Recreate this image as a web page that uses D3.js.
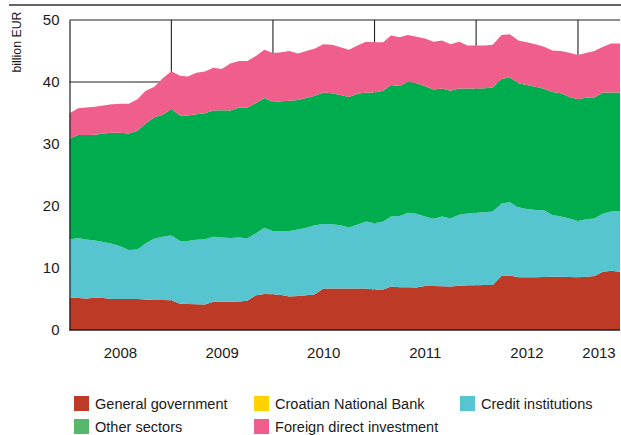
<!DOCTYPE html>
<html>
<head>
<meta charset="utf-8">
<script src="https://cdn.jsdelivr.net/npm/d3@7"></script>
<style>
  body { margin: 0; background: #fff; }
  svg text { font-family: "Liberation Sans Narrow", "Arial Narrow", "Liberation Sans", sans-serif; fill: #1a1a1a; }
</style>
</head>
<body>
<svg width="621" height="435"></svg>
<script>
// end-of-month stocks, Dec 2007 .. May 2013 (billion EUR)
var firstMonth = new Date(2008, 0, 1),   // position of the Dec 2007 stock
    lastMonth = new Date(2013, 5, 1);    // position of the May 2013 stock

var generalGov = [5.2,5.15,5.1,5.2,5.15,5.0,5.0,5.0,5.0,4.9,4.85,4.85,4.8,
  4.25,4.2,4.15,4.1,4.55,4.55,4.55,4.6,4.7,5.6,5.8,5.75,
  5.65,5.4,5.5,5.6,5.75,6.7,6.7,6.7,6.7,6.7,6.7,6.55,
  6.55,7.0,6.9,6.9,6.85,7.1,7.1,7.05,7.0,7.15,7.2,7.2,
  7.25,7.25,8.7,8.8,8.5,8.5,8.5,8.55,8.6,8.6,8.55,8.5,
  8.6,8.7,9.4,9.55,9.4];
var cnb = [0,0,0,0,0,0,0,0,0,0,0,0,0,
  0,0,0,0,0,0,0,0,0,0,0,0,
  0,0,0,0,0,0,0,0,0,0,0,0,
  0,0,0,0,0,0,0,0,0,0,0,0,
  0,0,0,0,0,0,0,0,0,0,0,0,
  0,0,0,0,0];
var creditInst = [9.4,9.7,9.5,9.25,9.05,8.9,8.5,7.9,8.0,9.1,9.9,10.2,10.5,
  10.1,10.15,10.4,10.55,10.5,10.35,10.3,10.3,10.1,10.0,10.7,10.2,
  10.3,10.55,10.7,10.9,11.15,10.4,10.35,10.2,9.85,10.3,10.8,10.65,
  10.95,11.3,11.5,12.0,11.9,11.2,10.85,11.25,11.0,11.45,11.6,11.7,
  11.75,11.85,11.7,11.8,11.3,11.0,10.85,10.75,9.95,9.7,9.45,9.1,
  9.25,9.3,9.4,9.55,9.8];
var otherSectors = [16.3,16.6,16.85,17.05,17.5,17.9,18.3,18.8,19.15,19.3,19.55,19.65,20.33,
  20.25,20.25,20.25,20.3,20.35,20.55,20.55,21.0,21.1,21.0,20.9,20.83,
  20.93,21.03,20.9,20.9,20.9,21.2,21.15,21.0,21.05,21.1,20.8,21.1,
  21.1,21.2,20.95,21.15,21.05,21.0,20.85,20.65,20.6,20.35,20.15,20.05,
  20.0,20.0,20.1,20.15,20.0,20.0,19.9,19.6,19.85,19.9,19.6,19.6,
  19.65,19.5,19.5,19.2,19.1];
var fdi = [4.05,4.3,4.45,4.5,4.5,4.6,4.7,4.8,5.05,5.3,4.95,5.9,6.1,
  6.4,6.3,6.7,6.75,6.9,6.65,7.6,7.5,7.5,7.6,7.8,7.9,
  7.9,8.0,7.5,7.6,7.6,7.8,7.8,7.7,7.6,7.8,8.2,8.1,
  7.8,8.0,7.85,7.55,7.5,7.7,7.7,7.75,7.5,7.55,6.95,6.95,
  6.9,6.9,7.1,6.95,6.9,6.9,6.85,6.8,6.7,6.8,7.1,7.15,
  7.2,7.5,7.4,7.9,7.9];

var seriesKeys = ["gg", "cnb", "ci", "os", "fdi"];
var seriesNames = ["General government", "Croatian National Bank", "Credit institutions",
                   "Other sectors", "Foreign direct investment"];
var areaColors = ["#bd3b26", "#ffd200", "#56c5d0", "#00ad4e", "#f05f8b"];
var legendColors = ["#bd3b26", "#ffd200", "#56c5d0", "#55b86a", "#f05f8b"];
var yTicks = [0, 10, 20, 30, 40, 50];
var years = [2008, 2009, 2010, 2011, 2012, 2013];

var svg = d3.select("svg");

var months = d3.timeMonth.range(firstMonth, d3.timeMonth.offset(lastMonth, 1));
var table = months.map(function(m, i) {
  return { date: m, gg: generalGov[i], cnb: cnb[i], ci: creditInst[i], os: otherSectors[i], fdi: fdi[i] };
});

var x = d3.scaleTime().domain([firstMonth, lastMonth]).range([69.5, 620]);
var y = d3.scaleLinear().domain([0, 50]).range([330, 20]);

// rule at the very top
svg.append("line")
  .attr("x1", 9).attr("x2", 621).attr("y1", 5).attr("y2", 5)
  .attr("stroke", "#333").attr("stroke-width", 1.3);

// grid behind the areas
var grid = svg.append("g").attr("stroke", "#231f20").attr("stroke-width", 1.1);
grid.selectAll("line.h")
  .data(yTicks.filter(function(d) { return d > 0; }))
  .enter().append("line")
    .attr("class", "h")
    .attr("x1", x.range()[0]).attr("x2", x.range()[1])
    .attr("y1", function(d) { return y(d); }).attr("y2", function(d) { return y(d); });
grid.selectAll("line.v")
  .data(years.slice(1))
  .enter().append("line")
    .attr("class", "v")
    .attr("x1", function(d) { return x(new Date(d, 0, 1)); })
    .attr("x2", function(d) { return x(new Date(d, 0, 1)); })
    .attr("y1", y(50)).attr("y2", y(0));

var stack = d3.stack().keys(seriesKeys);
var layers = stack(table);

var area = d3.area()
  .x(function(d) { return x(d.data.date); })
  .y0(function(d) { return y(d[0]); })
  .y1(function(d) { return y(d[1]); });

svg.append("g")
  .selectAll("path")
  .data(layers)
  .enter().append("path")
    .attr("fill", function(d, i) { return areaColors[i]; })
    .attr("d", area);

// y axis
var yAxis = svg.append("g")
  .attr("transform", "translate(" + x.range()[0] + ",0)")
  .call(d3.axisLeft(y).tickValues(yTicks).tickSize(0).tickPadding(10));
yAxis.select(".domain").attr("stroke", "#231f20").attr("stroke-width", 1.2);
yAxis.selectAll("text").style("font-size", "15px");

svg.append("line")
  .attr("x1", x.range()[0]).attr("x2", x.range()[1])
  .attr("y1", y(0)).attr("y2", y(0))
  .attr("stroke", "#231f20").attr("stroke-width", 1.6);

svg.append("text")
  .attr("transform", "translate(21,42) rotate(-90) scale(0.95,1)")
  .attr("text-anchor", "middle")
  .style("font-size", "13px")
  .text("billion EUR");

// year labels centred on each year's span
svg.append("g")
  .selectAll("text")
  .data(years)
  .enter().append("text")
    .attr("x", function(d) {
      var a = x(new Date(d, 0, 1)), b = Math.min(x(new Date(d + 1, 0, 1)), x.range()[1]);
      return (a + b) / 2;
    })
    .attr("y", 358)
    .attr("text-anchor", "middle")
    .style("font-size", "15px")
    .text(function(d) { return d; });

// legend
var legendCols = [74, 254, 460];
var legend = svg.append("g")
  .selectAll("g")
  .data(seriesNames)
  .enter().append("g")
    .attr("transform", function(d, i) {
      return "translate(" + legendCols[i % 3] + "," + (396 + Math.floor(i / 3) * 23) + ")";
    });
legend.append("rect")
  .attr("width", 15).attr("height", 15)
  .attr("fill", function(d, i) { return legendColors[i]; });
legend.append("text")
  .attr("transform", "translate(21,13) scale(0.97,1)")
  .style("font-size", "15px")
  .text(function(d) { return d; });
</script>
</body>
</html>
